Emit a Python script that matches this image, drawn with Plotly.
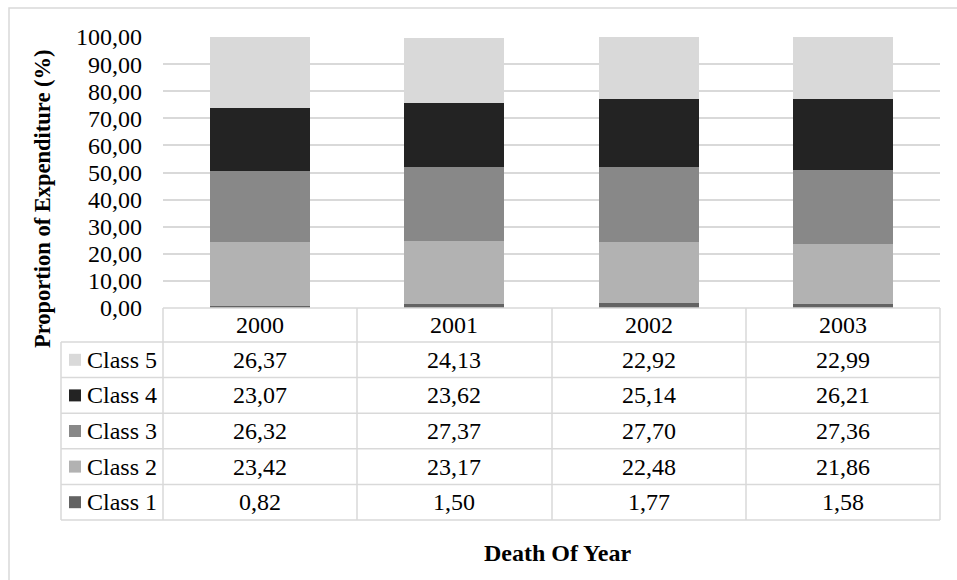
import plotly.graph_objects as go

# Data: share of expenditure by class and year
years = ["2000", "2001", "2002", "2003"]
class1 = [0.82, 1.50, 1.77, 1.58]
class2 = [23.42, 23.17, 22.48, 21.86]
class3 = [26.32, 27.37, 27.70, 27.36]
class4 = [23.07, 23.62, 25.14, 26.21]
class5 = [26.37, 24.13, 22.92, 22.99]
series_names = ["Class 1", "Class 2", "Class 3", "Class 4", "Class 5"]
series_values = [class1, class2, class3, class4, class5]
colors = ["#636363", "#b2b2b2", "#888888", "#232323", "#d9d9d9"]

W, H = 957, 580
L, R, T, B = 163, 940, 37, 308  # plot area in pixels
FONT = "Liberation Serif, Times New Roman, serif"
GRID = "#d9d9d9"
FS = 24


def px(x):
    return (x - L) / (R - L)


def py(y):
    return (B - y) / (B - T)


def fmt(v):
    return f"{v:.2f}".replace(".", ",")


fig = go.Figure()
for name, vals, col in zip(series_names, series_values, colors):
    fig.add_trace(go.Bar(x=years, y=vals, name=name, marker=dict(color=col, line=dict(width=0))))

shapes = []
annotations = []

# outer chart frame
shapes.append(dict(type="rect", xref="paper", yref="paper", x0=px(9), x1=px(990), y0=py(8), y1=py(620),
                   line=dict(color=GRID, width=1.5), fillcolor="rgba(0,0,0,0)", layer="below"))

# data table below the axis
row_top = 342
row_h = (520 - 342) / 5
col_edges = [163, 357, 552, 746, 940]
for xe in col_edges:
    shapes.append(dict(type="line", xref="paper", yref="paper", x0=px(xe), x1=px(xe), y0=py(308), y1=py(520),
                       line=dict(color=GRID, width=1.5)))
shapes.append(dict(type="line", xref="paper", yref="paper", x0=px(61), x1=px(61), y0=py(row_top), y1=py(520),
                   line=dict(color=GRID, width=1.5)))
shapes.append(dict(type="line", xref="paper", yref="paper", x0=px(163), x1=px(940), y0=py(308), y1=py(308),
                   line=dict(color=GRID, width=1.5)))
for i in range(6):
    yy = row_top + i * row_h
    shapes.append(dict(type="line", xref="paper", yref="paper", x0=px(61), x1=px(940), y0=py(yy), y1=py(yy),
                       line=dict(color=GRID, width=1.5)))

# year header row (category index on the x axis)
for j, yr in enumerate(years):
    annotations.append(dict(x=j, xref="x", y=py(325), yref="paper", text=yr, showarrow=False,
                            font=dict(family=FONT, size=FS, color="#000"), xanchor="center", yanchor="middle"))

# class rows: Class 5 on top down to Class 1
for i, k in enumerate(reversed(range(len(series_names)))):
    yc = row_top + (i + 0.5) * row_h
    shapes.append(dict(type="rect", xref="paper", yref="paper", x0=px(69), x1=px(81), y0=py(yc - 6), y1=py(yc + 6),
                       fillcolor=colors[k], line=dict(width=0)))
    annotations.append(dict(x=px(85), xref="paper", y=py(yc), yref="paper", text=series_names[k], showarrow=False,
                            font=dict(family=FONT, size=FS, color="#000"), xanchor="left", yanchor="middle"))
    for j, v in enumerate(series_values[k]):
        annotations.append(dict(x=j, xref="x", y=py(yc), yref="paper", text=fmt(v), showarrow=False,
                                font=dict(family=FONT, size=FS, color="#000"), xanchor="center", yanchor="middle"))

# axis titles
annotations.append(dict(x=px(557), xref="paper", y=py(553), yref="paper", text="<b>Death Of Year</b>",
                        showarrow=False, font=dict(family=FONT, size=24, color="#000"),
                        xanchor="center", yanchor="middle"))
annotations.append(dict(x=px(42), xref="paper", y=py(199), yref="paper", text="<b>Proportion of Expenditure (%)</b>",
                        showarrow=False, textangle=-90, font=dict(family=FONT, size=22.5, color="#000"),
                        xanchor="center", yanchor="middle"))

fig.update_layout(
    width=W, height=H,
    margin=dict(l=L, r=W - R, t=T, b=H - B, pad=0),
    barmode="stack", bargap=0.485,
    paper_bgcolor="white", plot_bgcolor="white",
    showlegend=False,
    separators=",.",
    font=dict(family=FONT, size=FS, color="#000"),
    xaxis=dict(type="category", range=[-0.5, 3.5], showticklabels=False, showgrid=False, zeroline=False,
               showline=False, ticks=""),
    yaxis=dict(range=[0, 100], dtick=10, tickformat=".2f", showgrid=True, gridcolor=GRID, gridwidth=1.5,
               zeroline=False, showline=False, ticks="", ticklabelstandoff=20,
               tickfont=dict(family=FONT, size=FS, color="#000")),
    shapes=shapes,
    annotations=annotations,
)

fig.write_html("out.html")
